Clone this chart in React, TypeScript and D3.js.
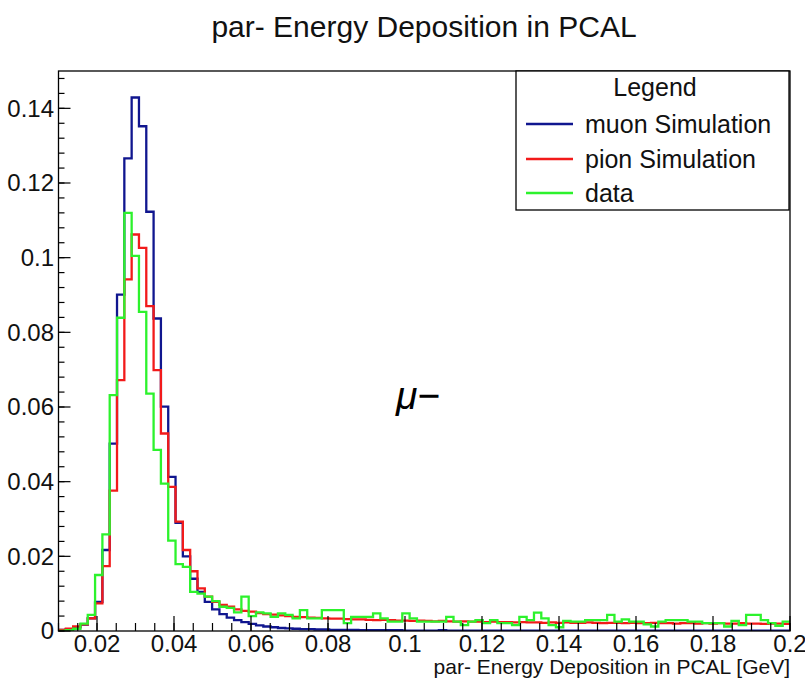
import React from 'react';
import * as d3 from 'd3';

// Histogram binning (100 bins from 0.01 to 0.2 GeV)
const X_MIN = 0.01;
const X_MAX = 0.2;
const N_BINS = 100;

const muonSim = [
  0.0003, 0.0005, 0.0010, 0.0017, 0.0034, 0.0078, 0.0217, 0.0502, 0.0901, 0.1266,
  0.1429, 0.1352, 0.1123, 0.0837, 0.0601, 0.0413, 0.0290, 0.0200, 0.0140, 0.0105,
  0.0078, 0.0058, 0.0045, 0.0036, 0.0029, 0.0024, 0.0019, 0.0015, 0.0012, 0.0010,
  0.0008, 0.0007, 0.0006, 0.0005, 0.0005, 0.0004, 0.0004, 0.0003, 0.0003, 0.0003,
  0.0003, 0.0002, 0.0002, 0.0002, 0.0002, 0.0002, 0.0002, 0.0001, 0.0001, 0.0001,
  0.0001, 0.0001, 0.0002, 0.0001, 0.0001, 0.0001, 0.0001, 0.0001, 0.0001, 0.0001,
  0.0001, 0.0001, 0.0001, 0.0001, 0.0001, 0.0001, 0.0001, 0.0001, 0.0001, 0.0001,
  0.0001, 0.0001, 0.0001, 0.0001, 0.0001, 0.0001, 0.0001, 0.0001, 0.0001, 0.0001,
  0.0001, 0.0001, 0.0001, 0.0001, 0.0001, 0.0001, 0.0001, 0.0001, 0.0001, 0.0001,
  0.0001, 0.0001, 0.0001, 0.0001, 0.0001, 0.0001, 0.0001, 0.0001, 0.0001, 0.0001,
];

const pionSim = [
  0.0003, 0.0006, 0.0012, 0.0018, 0.0034, 0.0074, 0.0174, 0.0376, 0.0672, 0.0942,
  0.1062, 0.1026, 0.0870, 0.0699, 0.0529, 0.0386, 0.0293, 0.0217, 0.0160, 0.0114,
  0.0092, 0.0078, 0.0070, 0.0065, 0.0058, 0.0054, 0.0052, 0.0048, 0.0045, 0.0044,
  0.0042, 0.0040, 0.0038, 0.0037, 0.0036, 0.0035, 0.0034, 0.0033, 0.0033, 0.0032,
  0.0031, 0.0031, 0.0030, 0.0029, 0.0030, 0.0029, 0.0028, 0.0028, 0.0027, 0.0028,
  0.0027, 0.0026, 0.0027, 0.0026, 0.0025, 0.0026, 0.0025, 0.0025, 0.0024, 0.0025,
  0.0024, 0.0024, 0.0023, 0.0024, 0.0023, 0.0023, 0.0022, 0.0023, 0.0022, 0.0023,
  0.0022, 0.0022, 0.0023, 0.0022, 0.0021, 0.0022, 0.0022, 0.0021, 0.0022, 0.0021,
  0.0021, 0.0022, 0.0021, 0.0021, 0.0020, 0.0021, 0.0021, 0.0020, 0.0021, 0.0020,
  0.0021, 0.0020, 0.0020, 0.0021, 0.0020, 0.0020, 0.0019, 0.0020, 0.0020, 0.0019,
];

const dataHist = [
  0.0000, 0.0002, 0.0006, 0.0020, 0.0043, 0.0150, 0.0259, 0.0632, 0.0839, 0.1120,
  0.1005, 0.0855, 0.0636, 0.0485, 0.0395, 0.0242, 0.0179, 0.0172, 0.0105, 0.0100,
  0.0092, 0.0080, 0.0065, 0.0062, 0.0050, 0.0092, 0.0040, 0.0050, 0.0047, 0.0038,
  0.0047, 0.0043, 0.0034, 0.0056, 0.0034, 0.0034, 0.0056, 0.0056, 0.0056, 0.0021,
  0.0038, 0.0038, 0.0038, 0.0047, 0.0034, 0.0025, 0.0025, 0.0047, 0.0034, 0.0025,
  0.0025, 0.0025, 0.0025, 0.0038, 0.0025, 0.0016, 0.0025, 0.0029, 0.0021, 0.0029,
  0.0021, 0.0021, 0.0016, 0.0038, 0.0029, 0.0049, 0.0034, 0.0016, 0.0010, 0.0027,
  0.0025, 0.0025, 0.0029, 0.0029, 0.0029, 0.0043, 0.0025, 0.0031, 0.0025, 0.0025,
  0.0018, 0.0012, 0.0025, 0.0029, 0.0029, 0.0029, 0.0025, 0.0025, 0.0021, 0.0021,
  0.0021, 0.0012, 0.0027, 0.0016, 0.0043, 0.0043, 0.0029, 0.0021, 0.0014, 0.0025,
];

const xMajorTicks = [0.02, 0.04, 0.06, 0.08, 0.1, 0.12, 0.14, 0.16, 0.18, 0.2];
const xTickLabels = ['0.02', '0.04', '0.06', '0.08', '0.1', '0.12', '0.14', '0.16', '0.18', '0.2'];
const yMajorTicks = [0, 0.02, 0.04, 0.06, 0.08, 0.1, 0.12, 0.14];
const yTickLabels = ['0', '0.02', '0.04', '0.06', '0.08', '0.1', '0.12', '0.14'];

const seriesNames = ['muon Simulation', 'pion Simulation', 'data'];
const seriesColors = ['#10168f', '#f21a1a', '#2cf22c'];

const W = 805;
const H = 686;
const FONT = "'Liberation Sans', Arial, sans-serif";

export default function App() {
  const left = 58.5, right = 790, top = 71, bottom = 631;
  const x = d3.scaleLinear().domain([X_MIN, X_MAX]).range([left, right]);
  const y = d3.scaleLinear().domain([0, 0.15]).range([bottom, top]);
  const edges = d3.range(N_BINS + 1).map((i) => X_MIN + (i * (X_MAX - X_MIN)) / N_BINS);

  const stepPath = (vals: number[]) => {
    let p = `M${x(edges[0])},${y(vals[0])}`;
    vals.forEach((v, i) => {
      if (i > 0) p += `V${y(v)}`;
      p += `H${x(edges[i + 1])}`;
    });
    return p;
  };

  const series = [muonSim, pionSim, dataHist];
  const xMinor = d3.range(0, 39).map((i) => 0.01 + i * 0.005).filter((v) => v <= 0.2001);
  const yMinor = d3.range(0, 38).map((i) => i * 0.004).filter((v) => v <= 0.1499);

  const legendLeft = 516, legendRight = 789, legendTop = 71, legendBottom = 210;
  const legendRows = [124, 159, 193];

  return (
    <svg width={W} height={H} style={{ position: 'absolute', left: 0, top: 0, background: '#fff' }} fontFamily={FONT}>
      <rect x={0} y={0} width={W} height={H} fill="#fff" />
      <defs>
        <clipPath id="frameClip">
          <rect x={left} y={top} width={right - left} height={bottom - top} />
        </clipPath>
      </defs>
      <text x={424} y={37} textAnchor="middle" fontSize={30} fill="#111">par- Energy Deposition in PCAL</text>

      <g clipPath="url(#frameClip)">
        {series.map((vals, i) => (
          <path key={i} d={stepPath(vals)} fill="none" stroke={seriesColors[i]} strokeWidth={2.3} strokeLinejoin="miter" />
        ))}
      </g>

      <rect x={left} y={top} width={right - left} height={bottom - top} fill="none" stroke="#000" strokeWidth={1.3} />

      {/* y ticks */}
      {yMinor.map((v, i) => (
        <line key={'ym' + i} x1={left} x2={left + 6} y1={y(v)} y2={y(v)} stroke="#000" strokeWidth={1.2} />
      ))}
      {yMajorTicks.map((v, i) => (
        <g key={'yM' + i}>
          <line x1={left} x2={left + 12} y1={y(v)} y2={y(v)} stroke="#000" strokeWidth={1.2} />
          <text x={54} y={y(v)} dy="0.35em" textAnchor="end" fontSize={24} fill="#111">{yTickLabels[i]}</text>
        </g>
      ))}

      {/* x ticks */}
      {xMinor.map((v, i) => (
        <line key={'xm' + i} x1={x(v)} x2={x(v)} y1={bottom} y2={bottom - 8} stroke="#000" strokeWidth={1.2} />
      ))}
      {xMajorTicks.map((v, i) => (
        <g key={'xM' + i}>
          <line x1={x(v)} x2={x(v)} y1={bottom} y2={bottom - 15} stroke="#000" strokeWidth={1.2} />
          <text x={x(v)} y={652} textAnchor="middle" fontSize={24} fill="#111">{xTickLabels[i]}</text>
        </g>
      ))}
      <text x={790} y={674} textAnchor="end" fontSize={21} fill="#111">par- Energy Deposition in PCAL [GeV]</text>

      {/* legend */}
      <rect x={legendLeft} y={legendTop} width={legendRight - legendLeft} height={legendBottom - legendTop} fill="#fff" stroke="#000" strokeWidth={1.3} />
      <text x={655} y={96} textAnchor="middle" fontSize={25} fill="#111">Legend</text>
      {seriesNames.map((name, i) => (
        <g key={'lg' + i}>
          <line x1={526} x2={573} y1={legendRows[i]} y2={legendRows[i]} stroke={seriesColors[i]} strokeWidth={2.5} />
          <text x={585} y={legendRows[i]} dy="0.36em" fontSize={25} fill="#111">{name}</text>
        </g>
      ))}

      <text x={396} y={409} fontSize={39} fontStyle="italic" fill="#000">μ−</text>
    </svg>
  );
}
